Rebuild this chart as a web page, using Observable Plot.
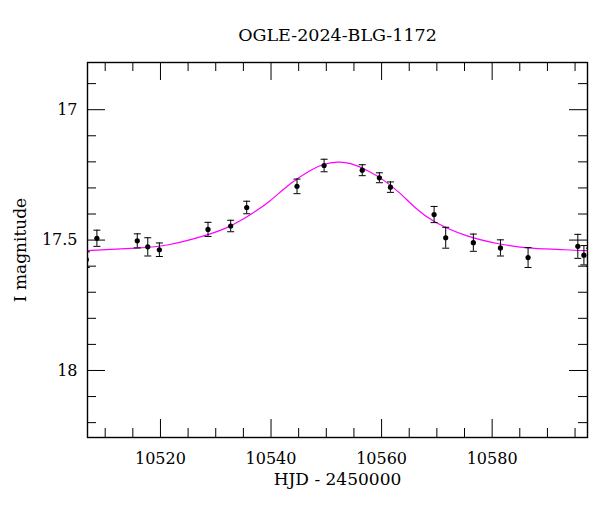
<!DOCTYPE html>
<html>
<head>
<meta charset="utf-8">
<script src="https://cdn.jsdelivr.net/npm/d3@7"></script>
<script src="https://cdn.jsdelivr.net/npm/@observablehq/plot@0.6"></script>
<style>
  html, body { margin: 0; padding: 0; background: white; }
  svg { display: block; }
</style>
</head>
<body>
<div id="chart"></div>
<script>
// ---- Data ----
const title = "OGLE-2024-BLG-1172";
const xLabel = "HJD - 2450000";
const yLabel = "I magnitude";

const obsHJD = [10506.6, 10508.5, 10515.8, 10517.7, 10519.8, 10528.6, 10532.7, 10535.6, 10544.7, 10549.6,
                10556.5, 10559.6, 10561.6, 10569.5, 10571.6, 10576.6, 10581.5, 10586.5, 10595.5, 10596.6, 10597.6];
const obsMag = [17.575, 17.493, 17.503, 17.526, 17.537, 17.459, 17.446, 17.375, 17.294, 17.214,
                17.232, 17.261, 17.297, 17.402, 17.491, 17.510, 17.530, 17.567, 17.524, 17.558, 17.566];
const obsErr = [0.030, 0.031, 0.027, 0.035, 0.026, 0.027, 0.022, 0.024, 0.028, 0.024,
                0.021, 0.019, 0.020, 0.031, 0.040, 0.033, 0.031, 0.038, 0.046, 0.037, 0.035];

const modelHJD = [10506.4, 10515.5, 10521.5, 10527.5, 10531.8, 10534.8, 10537.2, 10539.9, 10543.5, 10547.1,
                  10549.5, 10552.0, 10554.4, 10557.4, 10560.4, 10563.4, 10566.1, 10569.7, 10575.2, 10581.2,
                  10587.2, 10593.2, 10597.5];
const modelMag = [17.541, 17.531, 17.518, 17.486, 17.454, 17.421, 17.389, 17.348, 17.284, 17.233,
                  17.210, 17.201, 17.207, 17.233, 17.271, 17.322, 17.376, 17.431, 17.482, 17.514,
                  17.531, 17.537, 17.541];

const xDomain = [10506.8, 10597.25];
const yDomain = [16.819, 18.257];
const xMajor = [10520, 10540, 10560, 10580];
const xMinor = [10510, 10515, 10525, 10530, 10535, 10545, 10550, 10555, 10565, 10570, 10575, 10585, 10590, 10595];
const yMajor = [17, 17.5, 18];
const yMinor = [16.9, 17.1, 17.2, 17.3, 17.4, 17.6, 17.7, 17.8, 17.9, 18.1, 18.2];

// ---- Build ----
const obs = obsHJD.map((t, i) => ({t, m: obsMag[i], e: obsErr[i]}));
const model = modelHJD.map((t, i) => ({t, m: modelMag[i]}));

const W = 600, H = 512, mL = 87, mR = 13, mT = 62, mB = 75;
const fw = W - mL - mR, fh = H - mT - mB;
const majLen = 18, minLen = 9;

const capSymbol = {
  draw(ctx, size) {
    const r = Math.sqrt(size / Math.PI);
    ctx.moveTo(-r, 0);
    ctx.lineTo(r, 0);
  }
};

const tickStyle = {stroke: "black", strokeWidth: 1};

const chart = Plot.plot({
  width: W,
  height: H,
  marginLeft: mL,
  marginRight: mR,
  marginTop: mT,
  marginBottom: mB,
  style: {fontFamily: "'DejaVu Serif', serif", fontSize: "16px", background: "white", color: "black"},
  x: {domain: xDomain, label: null},
  y: {domain: yDomain, reverse: true, label: null},
  marks: [
    // inward ticks on all four sides
    Plot.tickX(xMajor, {x: d => d, insetTop: fh - majLen, ...tickStyle}),
    Plot.tickX(xMinor, {x: d => d, insetTop: fh - minLen, ...tickStyle}),
    Plot.tickX(xMajor, {x: d => d, insetBottom: fh - majLen, ...tickStyle}),
    Plot.tickX(xMinor, {x: d => d, insetBottom: fh - minLen, ...tickStyle}),
    Plot.tickY(yMajor, {y: d => d, insetRight: fw - majLen, ...tickStyle}),
    Plot.tickY(yMinor, {y: d => d, insetRight: fw - minLen, ...tickStyle}),
    Plot.tickY(yMajor, {y: d => d, insetLeft: fw - majLen, ...tickStyle}),
    Plot.tickY(yMinor, {y: d => d, insetLeft: fw - minLen, ...tickStyle}),
    // tick labels
    Plot.axisX({ticks: xMajor, tickSize: 0, tickPadding: 15, tickFormat: "d", label: null, fontSize: 16}),
    Plot.axisY({ticks: yMajor, tickSize: 0, tickPadding: 10, tickFormat: d => String(d), label: null, fontSize: 16}),
    // model curve
    Plot.line(model, {x: "t", y: "m", stroke: "#ff00ff", strokeWidth: 1.2, curve: "natural", clip: true}),
    // error bars
    Plot.ruleX(obs, {x: "t", y1: d => d.m - d.e, y2: d => d.m + d.e, stroke: "black", strokeWidth: 1, clip: true}),
    Plot.dot(obs, {x: "t", y: d => d.m - d.e, symbol: capSymbol, r: 3.5, stroke: "black", strokeWidth: 1, fill: "none", clip: true}),
    Plot.dot(obs, {x: "t", y: d => d.m + d.e, symbol: capSymbol, r: 3.5, stroke: "black", strokeWidth: 1, fill: "none", clip: true}),
    // points
    Plot.dot(obs, {x: "t", y: "m", r: 2.6, fill: "black", stroke: null, clip: true}),
    // frame
    Plot.frame({stroke: "black", strokeWidth: 1.4}),
    // title and axis labels
    Plot.text([title], {frameAnchor: "top", dy: -22, lineAnchor: "bottom", textAnchor: "middle", fontSize: 17.5, text: d => d}),
    Plot.text([xLabel], {frameAnchor: "bottom", dy: 47, lineAnchor: "bottom", textAnchor: "middle", fontSize: 17, text: d => d}),
    Plot.text([yLabel], {frameAnchor: "left", dx: -66.5, rotate: -90, lineAnchor: "middle", textAnchor: "middle", fontSize: 17, text: d => d})
  ]
});

document.getElementById("chart").appendChild(chart);
</script>
</body>
</html>
